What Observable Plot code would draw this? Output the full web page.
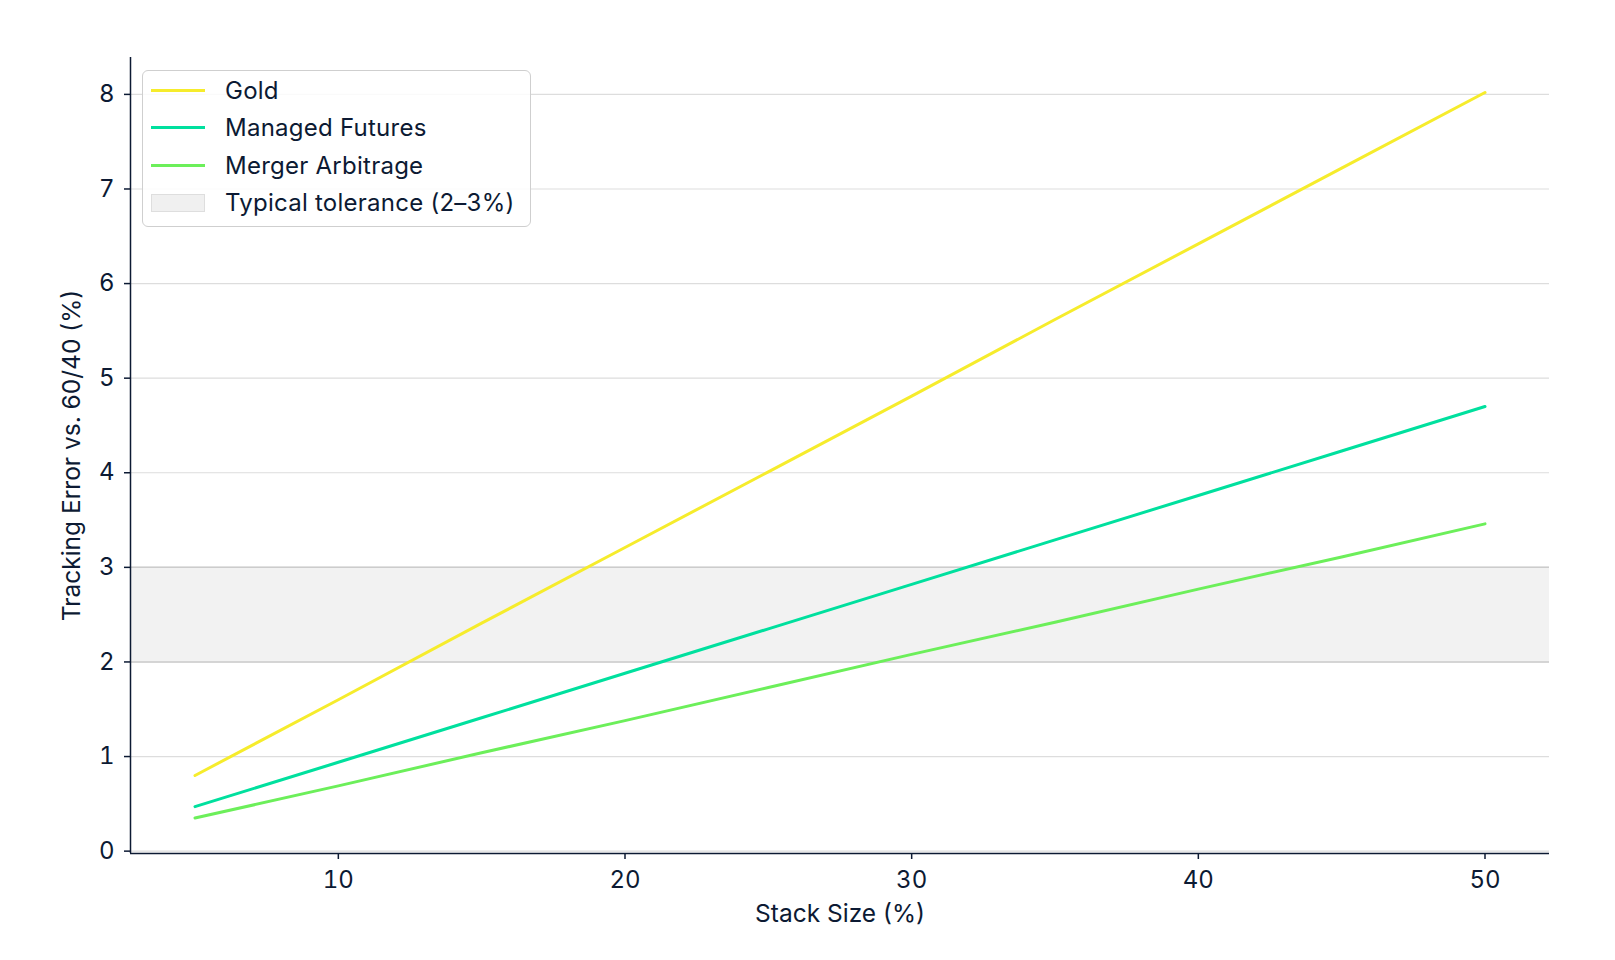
<!DOCTYPE html>
<html>
<head>
<meta charset="utf-8">
<script src="https://cdn.jsdelivr.net/npm/d3@7"></script>
<script src="https://cdn.jsdelivr.net/npm/@observablehq/plot@0.6"></script>
<style>
  html, body { margin: 0; padding: 0; background: #fff; }
  #wrap { position: relative; width: 1615px; height: 960px; font-family: Inter, "Noto Sans", sans-serif; color: #0c1a33; }
  #legend { position: absolute; left: 142px; top: 70px; width: 389px; height: 157px; box-sizing: border-box;
    border: 1.5px solid #cfcfcf; border-radius: 6px; background: rgba(255,255,255,0.85); }
  .item { position: absolute; left: 0; height: 30px; display: flex; align-items: center; font-size: 24px; letter-spacing: 0.25px; white-space: nowrap; }
  .sw { position: absolute; left: 8px; width: 54px; }
  .lab { position: absolute; left: 82px; }
</style>
</head>
<body>
<div id="wrap"><div id="chart"></div><div id="legend"></div></div>
<script>
const stackSizes = [5, 10, 15, 20, 25, 30, 35, 40, 45, 50];
const gold = [0.80, 1.60, 2.41, 3.21, 4.01, 4.81, 5.62, 6.42, 7.22, 8.02];
const managedFutures = [0.47, 0.94, 1.41, 1.88, 2.35, 2.82, 3.29, 3.76, 4.23, 4.70];
const mergerArbitrage = [0.35, 0.69, 1.04, 1.38, 1.73, 2.08, 2.42, 2.77, 3.11, 3.46];
const seriesNames = ["Gold", "Managed Futures", "Merger Arbitrage"];
const seriesColors = ["#f6ec2c", "#00e09e", "#6cef5a"];
const tolerance = [2, 3];
const toleranceLabel = "Typical tolerance (2–3%)";
const xTicks = [10, 20, 30, 40, 50];
const yTicks = [0, 1, 2, 3, 4, 5, 6, 7, 8];
const xLabel = "Stack Size (%)";
const yLabel = "Tracking Error vs. 60/40 (%)";

const seriesValues = [gold, managedFutures, mergerArbitrage];
const rows = seriesNames.flatMap((name, i) => stackSizes.map((x, j) => ({series: name, x, y: seriesValues[i][j]})));

const xDomain = [2.75, 52.25];
const yDomain = [-0.025, 8.39];
const ink = "#0c1a33";

const chart = Plot.plot({
  width: 1615,
  height: 960,
  marginLeft: 130,
  marginRight: 66,
  marginTop: 57,
  marginBottom: 107,
  style: {fontFamily: "Inter, 'Noto Sans', sans-serif", fontSize: "22px", color: ink, background: "#fff"},
  x: {domain: xDomain, ticks: xTicks, tickSize: 6, tickPadding: 11, label: null},
  y: {domain: yDomain, ticks: yTicks, tickSize: 6, tickPadding: 10, label: null},
  color: {domain: seriesNames, range: seriesColors},
  marks: [
    Plot.gridY(yTicks, {stroke: "#dddddd", strokeOpacity: 1, strokeWidth: 1.2}),
    Plot.rect([{y1: tolerance[0], y2: tolerance[1]}], {y1: "y1", y2: "y2", fill: "#f2f2f2"}),
    Plot.ruleY(tolerance, {stroke: "#cccccc", strokeWidth: 1.5}),
    Plot.line(rows, {x: "x", y: "y", z: "series", stroke: "series", strokeWidth: 3}),
    Plot.axisX(xTicks, {tickSize: 6, tickPadding: 11, stroke: ink, fill: ink, strokeWidth: 1.5, fontSize: 24, tickFormat: "d", label: null}),
    Plot.axisY(yTicks, {tickSize: 6, tickPadding: 10, stroke: ink, fill: ink, strokeWidth: 1.5, fontSize: 24, tickFormat: "d", label: null}),
    Plot.ruleX([xDomain[0]], {stroke: ink, strokeWidth: 1.5}),
    Plot.ruleY([yDomain[0]], {stroke: ink, strokeWidth: 1.5}),
    Plot.text([yLabel], {text: d => d, frameAnchor: "left", textAnchor: "middle", lineAnchor: "middle", dx: -58, rotate: -90, fontSize: 24.5, fill: ink}),
    Plot.text([xLabel], {text: d => d, frameAnchor: "bottom", lineAnchor: "middle", dy: 61, fontSize: 24.5, fill: ink})
  ]
});
document.getElementById("chart").appendChild(chart);

const legend = document.getElementById("legend");
const items = [...seriesNames.map((n, i) => ({name: n, color: seriesColors[i], type: "line"})), {name: toleranceLabel, type: "rect"}];
items.forEach((it, i) => {
  const div = document.createElement("div");
  div.className = "item";
  div.style.top = (4 + i * 37.5) + "px";
  const sw = document.createElement("div");
  sw.className = "sw";
  if (it.type === "line") {
    sw.style.height = "3px";
    sw.style.background = it.color;
  } else {
    sw.style.height = "18px";
    sw.style.background = "#f0f0f0";
    sw.style.border = "1px solid #dedede";
    sw.style.boxSizing = "border-box";
  }
  const lab = document.createElement("span");
  lab.className = "lab";
  lab.textContent = it.name;
  div.appendChild(sw);
  div.appendChild(lab);
  legend.appendChild(div);
});
</script>
</body>
</html>
